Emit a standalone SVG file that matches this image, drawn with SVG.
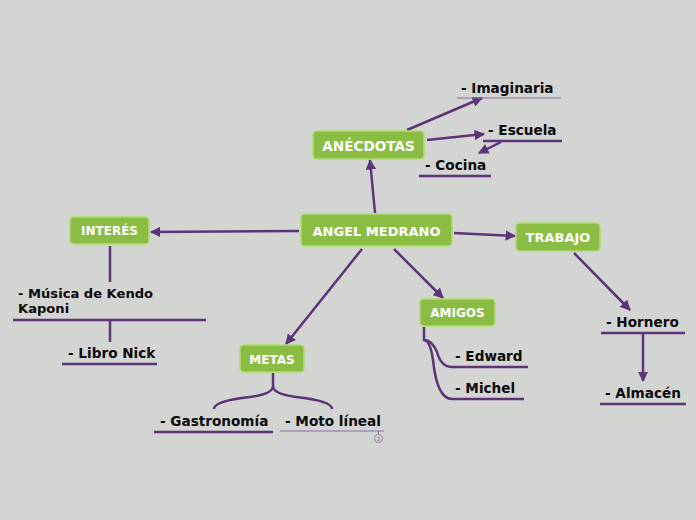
<svg xmlns="http://www.w3.org/2000/svg" width="696" height="520" viewBox="0 0 696 520">
<defs>
<style>
.bg{fill:#d3d5d2}
.box{fill:#8bbd45;stroke:#aedb6f;stroke-width:1.5}
.bt{font-family:"DejaVu Sans",Verdana,sans-serif;font-weight:bold;font-size:13px;fill:#ffffff;text-anchor:middle}
.lt{font-family:"DejaVu Sans",Verdana,sans-serif;font-weight:bold;font-size:13.6px;fill:#0a0a0a}
.c{stroke:#5e3479;stroke-width:2.5;fill:none}
.ul{stroke:#5e3479;stroke-width:2.5}
.ut{stroke:#8c6aa3;stroke-width:1}
</style>
<marker id="ah" viewBox="0 0 10 10" refX="9" refY="5" markerWidth="4.2" markerHeight="4.2" orient="auto" markerUnits="strokeWidth">
<path d="M0,0 L10,5 L0,10 z" fill="#5e3479"/>
</marker>
</defs>
<rect class="bg" x="0" y="0" width="696" height="520"/>
<g id="connectors">
<line class="c" x1="375" y1="213" x2="370" y2="160" marker-end="url(#ah)"/>
<line class="c" x1="407" y1="130" x2="482" y2="98" marker-end="url(#ah)"/>
<line class="c" x1="427" y1="140" x2="484" y2="134" marker-end="url(#ah)"/>
<line class="c" x1="501" y1="142" x2="479" y2="153" marker-end="url(#ah)"/>
<line class="c" x1="299" y1="231" x2="151" y2="232" marker-end="url(#ah)"/>
<line class="c" x1="110" y1="246" x2="110" y2="282"/>
<line class="c" x1="110" y1="321" x2="110" y2="342"/>
<line class="c" x1="454" y1="233" x2="515" y2="236" marker-end="url(#ah)"/>
<line class="c" x1="574" y1="253" x2="630" y2="310" marker-end="url(#ah)"/>
<line class="c" x1="643" y1="334" x2="643" y2="381" marker-end="url(#ah)"/>
<line class="c" x1="394" y1="249" x2="443" y2="298" marker-end="url(#ah)"/>
<line class="c" x1="362" y1="249" x2="286" y2="344" marker-end="url(#ah)"/>
<path class="c" d="M273,373 L273,386 Q273,394 250,397 Q214,401 214,409"/>
<path class="c" d="M273,386 Q273,394 296,397 Q332,401 332,409"/>
<path class="c" d="M424,327 L424,340 Q432,340 437,352 Q441,367 452,367 L528,367"/>
<path class="c" d="M424,340 Q430,340 433,360 Q437,399 452,399 L524,399"/>
</g>
<g id="center"><rect class="box" x="301" y="214" width="151" height="32" rx="4"/><text class="bt" x="376.5" y="235.5">ANGEL MEDRANO</text></g>
<g id="anecdotas"><rect class="box" x="313" y="131" width="111" height="28" rx="4"/><text class="bt" x="368.5" y="150.5" style="font-size:13.6px">ANÉCDOTAS</text></g>
<g id="interes"><rect class="box" x="70" y="217" width="79" height="27" rx="4"/><text class="bt" x="109.5" y="235" style="font-size:12px">INTERÉS</text></g>
<g id="trabajo"><rect class="box" x="516" y="223" width="84" height="28" rx="4"/><text class="bt" x="558" y="242">TRABAJO</text></g>
<g id="amigos"><rect class="box" x="420" y="299" width="75" height="27" rx="4"/><text class="bt" x="457.5" y="317" style="font-size:12px">AMIGOS</text></g>
<g id="metas"><rect class="box" x="240" y="345" width="64" height="27" rx="4"/><text class="bt" x="272" y="363.5" style="font-size:12px">METAS</text></g>
<g id="imaginaria"><text class="lt" x="461" y="93">- Imaginaria</text><line class="ut" x1="457" y1="98" x2="561" y2="98"/></g>
<g id="escuela"><text class="lt" x="488" y="135">- Escuela</text><line class="ul" x1="483" y1="141" x2="562" y2="141"/></g>
<g id="cocina"><text class="lt" x="425" y="170">- Cocina</text><line class="ul" x1="419" y1="176" x2="491" y2="176"/></g>
<g id="musica"><text class="lt" x="18" y="298" style="font-size:13.1px">- Música de Kendo</text><text class="lt" x="18" y="313" style="font-size:13.1px">Kaponi</text><line class="ul" x1="13" y1="320" x2="206" y2="320"/></g>
<g id="libro"><text class="lt" x="68" y="358">- Libro Nick</text><line class="ul" x1="62" y1="364" x2="157" y2="364"/></g>
<g id="gastronomia"><text class="lt" x="160" y="426">- Gastronomía</text><line class="ul" x1="154" y1="432" x2="273" y2="432"/></g>
<g id="moto"><text class="lt" x="285" y="426">- Moto líneal</text><line class="ut" x1="280" y1="431" x2="384" y2="431"/><line class="ut" x1="378.5" y1="431" x2="378.5" y2="434"/><circle cx="378.5" cy="438.5" r="4" fill="none" stroke="#8c6aa3" stroke-width="0.8"/><text x="378.5" y="440.5" style="font-family:'DejaVu Sans',sans-serif;font-size:5px;fill:#8c6aa3;text-anchor:middle">2</text></g>
<g id="edward"><text class="lt" x="455" y="361">- Edward</text></g>
<g id="michel"><text class="lt" x="455" y="393">- Michel</text></g>
<g id="hornero"><text class="lt" x="606" y="327">- Hornero</text><line class="ul" x1="601" y1="333" x2="685" y2="333"/></g>
<g id="almacen"><text class="lt" x="605" y="398">- Almacén</text><line class="ul" x1="600" y1="404" x2="686" y2="404"/></g>
</svg>
